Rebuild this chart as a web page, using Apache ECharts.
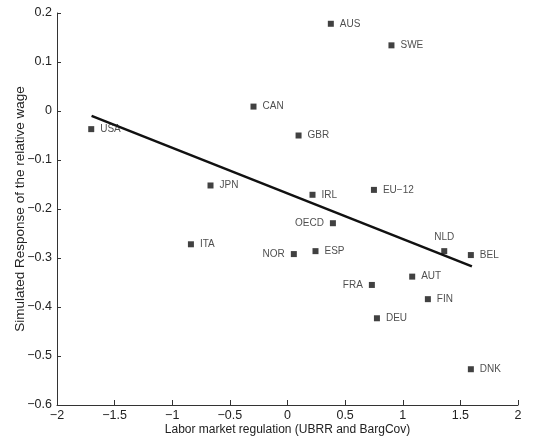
<!DOCTYPE html>
<html>
<head>
<meta charset="utf-8">
<script src="https://cdn.jsdelivr.net/npm/echarts@6/dist/echarts.min.js"></script>
<style>
  html, body { margin: 0; padding: 0; background: #fff; }
  #chart { width: 535px; height: 444px; }
</style>
</head>
<body>
<div id="chart"></div>
<script>
// country points
var countries = ['AUS', 'SWE', 'CAN', 'USA', 'GBR', 'JPN', 'IRL', 'EU\u221212', 'OECD', 'ITA',
                 'NOR', 'ESP', 'NLD', 'BEL', 'AUT', 'FRA', 'FIN', 'DEU', 'DNK'];
var xValues = [0.376, 0.902, -0.295, -1.703, 0.096, -0.668, 0.217, 0.750, 0.394, -0.838,
               0.055, 0.243, 1.360, 1.591, 1.082, 0.732, 1.218, 0.776, 1.591];
var yValues = [0.178, 0.134, 0.009, -0.037, -0.050, -0.152, -0.171, -0.161, -0.229, -0.272,
               -0.292, -0.286, -0.286, -0.294, -0.338, -0.355, -0.384, -0.423, -0.527];
// fitted line end points
var fitX = [-1.70, 1.60];
var fitY = [-0.010, -0.317];
// tick labels
var xTicks = [-2, -1.5, -1, -0.5, 0, 0.5, 1, 1.5, 2];
var yTicks = [-0.6, -0.5, -0.4, -0.3, -0.2, -0.1, 0, 0.1, 0.2];
// which labels sit left / above
var leftLabeled = ['OECD', 'NOR', 'FRA'];
var topLabeled = ['NLD'];

var textColor = '#222';
var fontFamily = 'Liberation Sans, Arial, sans-serif';

function minusFmt(v) {
    return String(v).replace('-', '\u2212');
}

var pointData = countries.map(function (name, i) {
    var pos = 'right';
    if (leftLabeled.indexOf(name) >= 0) pos = 'left';
    if (topLabeled.indexOf(name) >= 0) pos = 'top';
    return {
        name: name,
        value: [xValues[i], yValues[i]],
        label: { position: pos }
    };
});

var myChart = echarts.init(document.getElementById('chart'));
myChart.setOption({
    animation: false,
    grid: { left: 57, right: 17, top: 13, bottom: 39, outerBoundsMode: 'none', containLabel: false },
    xAxis: {
        type: 'value',
        min: xTicks[0],
        max: xTicks[xTicks.length - 1],
        interval: 0.5,
        name: 'Labor market regulation (UBRR and BargCov)',
        nameLocation: 'middle',
        nameGap: 19,
        nameMoveOverlap: false,
        nameTextStyle: { color: textColor, fontSize: 12, fontFamily: fontFamily },
        axisLine: { onZero: false, lineStyle: { color: '#333', width: 1 } },
        axisTick: { inside: true, length: 5, lineStyle: { color: '#333' } },
        axisLabel: { color: textColor, fontSize: 12.5, fontFamily: fontFamily, margin: 4, formatter: minusFmt },
        splitLine: { show: false }
    },
    yAxis: {
        type: 'value',
        min: yTicks[0],
        max: yTicks[yTicks.length - 1],
        interval: 0.1,
        name: 'Simulated Response of the relative wage',
        nameLocation: 'middle',
        nameGap: 30,
        nameMoveOverlap: false,
        nameTextStyle: { color: textColor, fontSize: 13.5, fontFamily: fontFamily },
        axisLine: { show: true, onZero: false, lineStyle: { color: '#333', width: 1 } },
        axisTick: { show: true, inside: true, length: 4, lineStyle: { color: '#333' } },
        axisLabel: {
            color: textColor, fontSize: 12.5, fontFamily: fontFamily, margin: 5,
            formatter: function (v) { return minusFmt(Math.round(v * 10) / 10); }
        },
        splitLine: { show: false }
    },
    series: [
        {
            type: 'line',
            data: fitX.map(function (x, i) { return [x, fitY[i]]; }),
            showSymbol: false,
            lineStyle: { color: '#111', width: 2.5 },
            z: 2
        },
        {
            type: 'scatter',
            data: pointData,
            symbol: 'rect',
            symbolSize: 6,
            itemStyle: { color: '#111' },
            label: {
                show: true,
                formatter: '{b}',
                distance: 6,
                color: textColor,
                fontSize: 10,
                fontFamily: fontFamily
            },
            z: 3
        }
    ]
});
</script>
</body>
</html>
